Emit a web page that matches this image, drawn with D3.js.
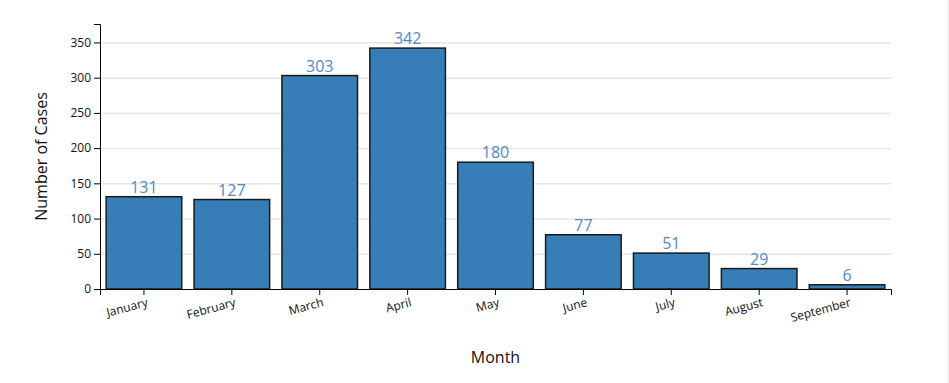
<!DOCTYPE html>
<html>
<head>
<meta charset="utf-8">
<script src="https://cdn.jsdelivr.net/npm/d3@7"></script>
<style>
  html, body { margin: 0; padding: 0; background: #fff; }
  svg { display: block; font-family: "Open Sans", "Segoe UI", sans-serif; }
  .grid line { stroke: #e6e6e6; stroke-width: 1.5; }
  .grid path { display: none; }
  .axis text { fill: #111; font-size: 12px; font-family: "Open Sans", "Segoe UI", sans-serif; }
</style>
</head>
<body>
<script>
const months = ["January","February","March","April","May","June","July","August","September"];
const cases = [131, 127, 303, 342, 180, 77, 51, 29, 6];
const yTicks = [0, 50, 100, 150, 200, 250, 300, 350];
const xTitle = "Month";
const yTitle = "Number of Cases";

const W = 949, H = 383;
const margin = {top: 24, right: 58, bottom: 94, left: 100};
const iw = W - margin.left - margin.right;
const ih = H - margin.top - margin.bottom;

const svg = d3.select("body").append("svg").attr("width", W).attr("height", H);

svg.append("rect").attr("x", W - 2).attr("y", 0).attr("width", 2).attr("height", H).attr("fill", "#eeeeee");

const g = svg.append("g").attr("transform", `translate(${margin.left},${margin.top})`);

const x = d3.scaleBand().domain(months).range([0, iw]).paddingInner(0.14).paddingOuter(0.07);
const y = d3.scaleLinear().domain([0, d3.max(cases) * 1.1]).range([ih, 0]);

// gridlines
g.append("g").attr("class", "grid")
  .call(d3.axisLeft(y).tickValues(yTicks.filter(v => v > 0)).tickSize(-iw).tickFormat(""));

// bars
g.selectAll("rect.bar").data(cases).join("rect")
  .attr("class", "bar")
  .attr("x", (d, i) => x(months[i]))
  .attr("y", d => y(d))
  .attr("width", x.bandwidth())
  .attr("height", d => ih - y(d))
  .attr("fill", "#377eb8")
  .attr("stroke", "#1a1a1a")
  .attr("stroke-width", 1.5);

// value labels
g.selectAll("text.val").data(cases).join("text")
  .attr("class", "val")
  .attr("x", (d, i) => x(months[i]) + x.bandwidth() / 2)
  .attr("y", d => y(d) - 4)
  .attr("text-anchor", "middle")
  .attr("fill", "#5189c9")
  .style("font-size", "16px")
  .text(d => d);

// axes
const xa = g.append("g").attr("class", "axis").attr("transform", `translate(0,${ih})`)
  .call(d3.axisBottom(x));
xa.attr("font-family", null).attr("font-size", null);
xa.selectAll("text").attr("transform", "rotate(-15)").style("text-anchor", "end");

const ya = g.append("g").attr("class", "axis").call(d3.axisLeft(y).tickValues(yTicks));
ya.attr("font-family", null).attr("font-size", null);

// titles
svg.append("text")
  .attr("x", margin.left + iw / 2).attr("y", 363)
  .attr("text-anchor", "middle").attr("fill", "#111")
  .style("font-size", "16px").text(xTitle);

svg.append("text")
  .attr("transform", `translate(47,${margin.top + ih / 2}) rotate(-90)`)
  .attr("text-anchor", "middle").attr("fill", "#111")
  .style("font-size", "16px").text(yTitle);
</script>
</body>
</html>
